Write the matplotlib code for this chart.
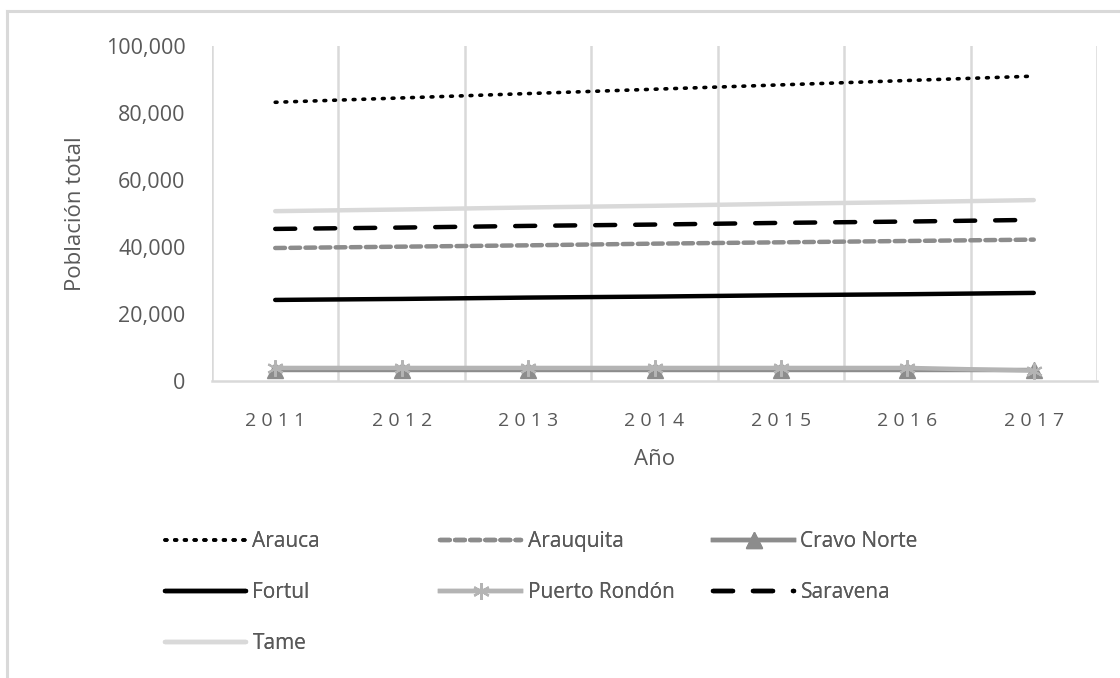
import matplotlib.pyplot as plt
from matplotlib.lines import Line2D
from matplotlib.ticker import FuncFormatter

plt.rcParams['font.family'] = ['Open Sans', 'DejaVu Sans']

years = [2011, 2012, 2013, 2014, 2015, 2016, 2017]
arauca = [83200, 84500, 85800, 87100, 88400, 89700, 91000]
arauquita = [39700, 40100, 40500, 41000, 41400, 41800, 42200]
cravo_norte = [3300, 3300, 3300, 3300, 3300, 3300, 3300]
fortul = [24200, 24500, 24900, 25200, 25600, 25900, 26300]
puerto_rondon = [3900, 3900, 3900, 3900, 3900, 3900, 3100]
saravena = [45400, 45800, 46300, 46700, 47200, 47600, 48100]
tame = [50700, 51200, 51800, 52300, 52900, 53400, 54000]

names = ['Arauca', 'Arauquita', 'Cravo Norte', 'Fortul', 'Puerto Rondón', 'Saravena', 'Tame']
values = [arauca, arauquita, cravo_norte, fortul, puerto_rondon, saravena, tame]

W, H = 1120, 678
fig = plt.figure(figsize=(W / 100, H / 100), dpi=100)
ax = fig.add_axes([212 / W, 1 - 381 / H, 885 / W, 335 / H])

# outer chart border (only top and left show)
fig.add_artist(Line2D([7 / W, 1], [1 - 11 / H, 1 - 11 / H], color='#d9d9d9', lw=2.2))
fig.add_artist(Line2D([7 / W, 7 / W], [0, 1 - 11 / H], color='#d9d9d9', lw=2.2))

x = list(range(len(years)))
styles = [
    dict(color='black', lw=2.6, ls=(0, (0.5, 2.2)), dash_capstyle='round'),
    dict(color='#8c8c8c', lw=3.2, ls=(0, (2.2, 1.2)), dash_capstyle='round'),
    dict(color='#8c8c8c', lw=3.2, marker='^', ms=11),
    dict(color='black', lw=3.2, solid_capstyle='round'),
    dict(color='#b4b4b4', lw=3.2, marker=(6, 2, 0), ms=12, mew=1.5, mec='#b4b4b4'),
    dict(color='black', lw=3.2, ls=(0, (4.5, 4.5)), dash_capstyle='round'),
    dict(color='#d9d9d9', lw=3.2, solid_capstyle='round'),
]
handles = {}
for n, v, st in zip(names, values, styles):
    h, = ax.plot(x, v, label=n, **st)
    handles[n] = h

ax.set_xlim(-0.5, len(years) - 0.5)
ax.set_ylim(0, 100000)
ax.set_yticks(range(0, 100001, 20000))
ax.yaxis.set_major_formatter(FuncFormatter(lambda v, p: f'{int(v):,}'))
ax.set_xticks(x)
ax.set_xticklabels([' '.join(str(y)) for y in years], fontsize=14, color='#595959')
for b in range(len(years) + 1):
    ax.axvline(b - 0.5, color='#d9d9d9', lw=1.8, zorder=0)

for s in ['top', 'right', 'left']:
    ax.spines[s].set_visible(False)
ax.spines['bottom'].set_color('#d9d9d9')
ax.spines['bottom'].set_linewidth(1.8)
ax.tick_params(axis='both', length=0)
ax.tick_params(axis='y', labelsize=15.5, labelcolor='#595959', pad=19)
ax.tick_params(axis='x', pad=22)

ax.set_xlabel('Año', fontsize=16, color='#595959', labelpad=14)
ax.set_ylabel('Población total', fontsize=16, color='#595959', labelpad=14)

# legend: three columns placed like the original
cols = [
    (165, ['Arauca', 'Fortul', 'Tame']),
    (440, ['Arauquita', 'Puerto Rondón']),
    (713, ['Cravo Norte', 'Saravena']),
]
for cx, labels in cols:
    leg = fig.legend(handles=[handles[l] for l in labels], labels=labels,
                     loc='upper left', bbox_to_anchor=(cx / W, 1 - 531 / H),
                     frameon=False, fontsize=15, labelcolor='#595959',
                     handlelength=3.9, handletextpad=0.3, labelspacing=1.45,
                     borderpad=0, borderaxespad=0)
    fig.add_artist(leg)

fig.savefig('out.png', dpi=100)
